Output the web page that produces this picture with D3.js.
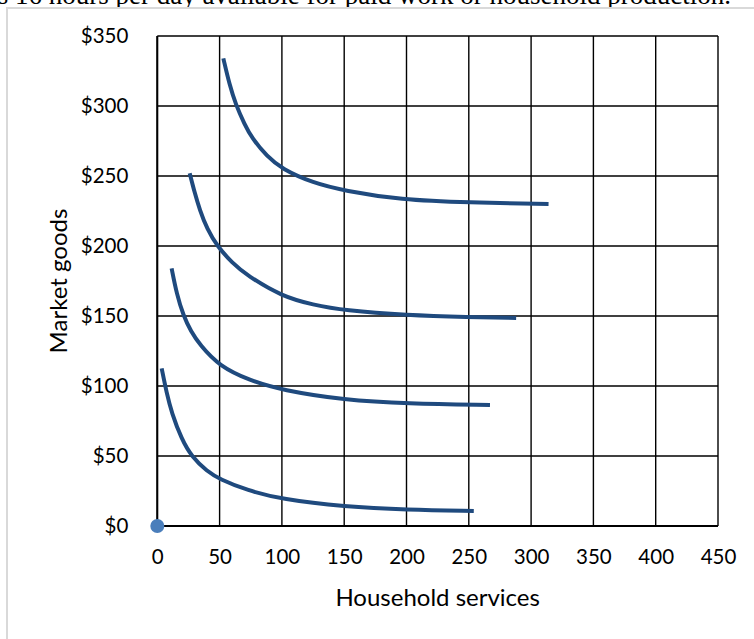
<!DOCTYPE html>
<html><head><meta charset="utf-8">
<script src="https://cdn.jsdelivr.net/npm/d3@7/dist/d3.min.js"></script>
<style>html,body{margin:0;padding:0;background:#fff;overflow:hidden}</style>
</head><body>
<script>
// ---- data ----
const xTicks = [0, 50, 100, 150, 200, 250, 300, 350, 400, 450];
const yTicks = [0, 50, 100, 150, 200, 250, 300, 350];
const curve1X = [53, 58, 63, 70, 76, 88, 100, 125, 150, 195, 250, 314];
const curve1Y = [334, 315, 301, 287, 277, 264, 255, 245, 239.5, 233, 231, 230];
const curve2X = [26, 30, 34, 40, 48, 60, 72, 100, 125, 150, 200, 250, 288];
const curve2Y = [252, 238, 226, 212, 200, 188, 179, 164, 158, 154, 150.5, 149.2, 148.6];
const curve3X = [11.5, 15.5, 21, 27, 34, 50, 74, 100, 150, 200, 267];
const curve3Y = [184, 166, 150, 139, 129.5, 114, 104, 97, 90, 87.3, 86.4];
const curve4X = [3.5, 7.5, 11.5, 19.5, 27.6, 40, 50, 72, 100, 150, 200, 254];
const curve4Y = [112.6, 95, 81, 62, 49.5, 39, 33.5, 25.5, 19, 13.8, 11.6, 10.7];
const originPoint = [0, 0];
const xTitle = "Household services";
const yTitle = "Market goods";
const caption = "has 16 hours per day available for paid work or household production.";

const W = 754, H = 639;
const svg = d3.select("body").append("svg").attr("width", W).attr("height", H);

// cut-off caption text above the frame
svg.append("text").attr("x", 731).attr("y", 4).attr("text-anchor", "end")
  .attr("font-family", "Liberation Serif, Times New Roman, serif").attr("font-size", 27)
  .text(caption);

// chart frame
svg.append("rect").attr("x", 7).attr("y", 8).attr("width", 800).attr("height", 700)
  .attr("fill", "#fff").attr("stroke", "#d9d9d9").attr("stroke-width", 2);

const x = d3.scaleLinear().domain([0, 450]).range([157.3, 718]);
const y = d3.scaleLinear().domain([0, 350]).range([526, 36]);

const font = "Lato, 'Open Sans', sans-serif";

// gridlines
const g = svg.append("g");
g.selectAll("line.v").data(xTicks).join("line")
  .attr("x1", d => x(d)).attr("x2", d => x(d)).attr("y1", y(0)).attr("y2", y(350))
  .attr("stroke", "#000").attr("stroke-width", 1.4);
g.selectAll("line.h").data(yTicks).join("line")
  .attr("y1", d => y(d)).attr("y2", d => y(d)).attr("x1", x(0)).attr("x2", x(450))
  .attr("stroke", "#000").attr("stroke-width", 1.4);
// axes lines
g.append("line").attr("x1", x(0)).attr("x2", x(450)).attr("y1", y(0)).attr("y2", y(0))
  .attr("stroke", "#000").attr("stroke-width", 2);
g.append("line").attr("x1", x(0)).attr("x2", x(0)).attr("y1", y(0)).attr("y2", y(350))
  .attr("stroke", "#000").attr("stroke-width", 2);

// axes with d3
const xAxis = d3.axisBottom(x).tickValues(xTicks).tickSize(0).tickPadding(23).tickFormat(d3.format("d"));
const yAxis = d3.axisLeft(y).tickValues(yTicks).tickSize(0).tickPadding(29).tickFormat(d => "$" + d);
const gx = svg.append("g").attr("transform", `translate(0,${y(0)})`).call(xAxis);
const gy = svg.append("g").attr("transform", `translate(${x(0)},0)`).call(yAxis);
[gx, gy].forEach(a => {
  a.select(".domain").remove();
  a.selectAll("text").attr("font-family", font).attr("font-size", 20.5).attr("fill", "#000");
});

// titles
svg.append("text").attr("x", (x(0) + x(450)) / 2).attr("y", 606).attr("text-anchor", "middle")
  .attr("font-family", font).attr("font-size", 24).attr("fill", "#000").text(xTitle);
svg.append("text").attr("transform", `translate(67,${(y(0) + y(350)) / 2}) rotate(-90)`)
  .attr("text-anchor", "middle").attr("font-family", font).attr("font-size", 24).attr("fill", "#000").text(yTitle);

// curves
const line = d3.line().x(d => x(d[0])).y(d => y(d[1])).curve(d3.curveBasis);
const curves = [[curve1X, curve1Y], [curve2X, curve2Y], [curve3X, curve3Y], [curve4X, curve4Y]];
svg.selectAll("path.curve").data(curves).join("path")
  .attr("d", c => line(c[0].map((v, i) => [v, c[1][i]])))
  .attr("fill", "none").attr("stroke", "#1f4a7e").attr("stroke-width", 4).attr("stroke-linecap", "butt");

// origin marker
svg.append("circle").attr("cx", x(originPoint[0])).attr("cy", y(originPoint[1])).attr("r", 7)
  .attr("fill", "#4a7ebb");
</script>
</body></html>
